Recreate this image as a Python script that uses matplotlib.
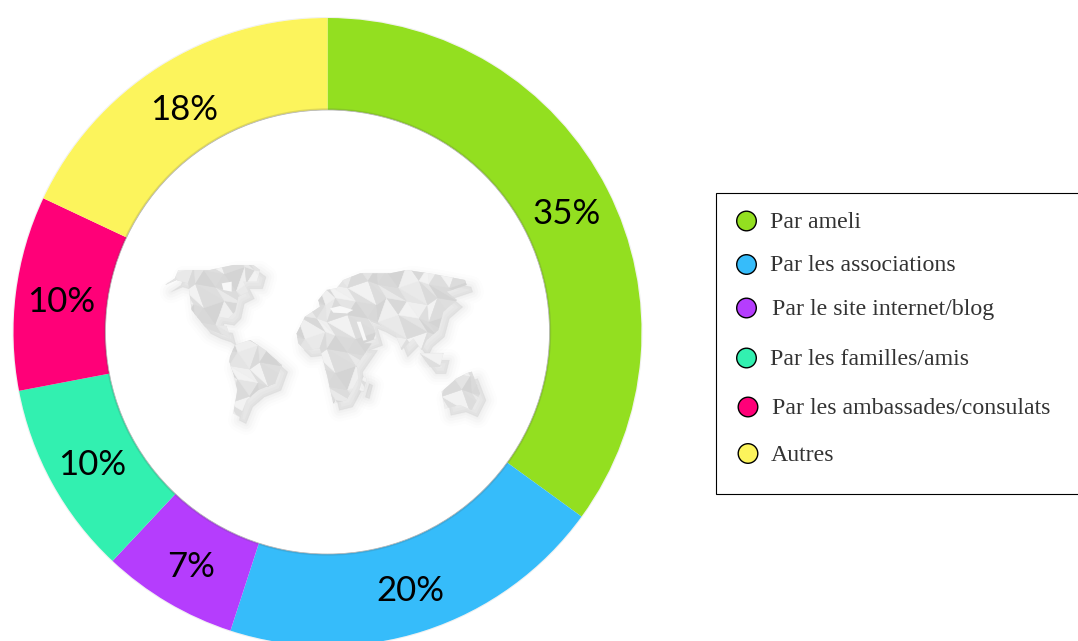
import numpy as np
import matplotlib
matplotlib.use("Agg")
import matplotlib.pyplot as plt
from matplotlib.patches import Polygon, Circle, Rectangle

categories = ["Par ameli", "Par les associations", "Par le site internet/blog",
              "Par les familles/amis", "Par les ambassades/consulats", "Autres"]
values = [35, 20, 7, 10, 10, 18]
colors = ["#93DF20", "#36BCFA", "#B53DFD", "#32F0B0", "#FF0078", "#FCF45C"]

W, H = 1078, 641
CX, CY, R_OUT, R_IN = 327.5, 332, 314, 222
LABEL_R = 268

fig = plt.figure(figsize=(W / 100, H / 100), dpi=100)
ax = fig.add_axes([0, 0, 1, 1])

def Y(p):
    return H - p

ax.pie(values, colors=colors, startangle=90, counterclock=False,
       center=(CX, Y(CY)), radius=R_OUT, frame=True,
       wedgeprops=dict(width=R_OUT - R_IN, linewidth=0, zorder=2))
ax.set_xlim(0, W)
ax.set_ylim(0, H)
ax.set_aspect("equal")
ax.axis("off")

# faint shadow round the ring
ax.add_patch(Circle((CX, Y(CY)), R_OUT + 0.6, fc="none", ec="#aaaaaa", lw=0.6, alpha=0.2, zorder=1))
ax.add_patch(Circle((CX, Y(CY)), R_IN + 1, fc="none", ec="#555555", lw=1.0, alpha=0.18, zorder=3))
ax.add_patch(Circle((CX, Y(CY)), R_IN, fc="white", ec="#aaaaaa", lw=0.5, zorder=3))

# percentage labels
cum = np.cumsum([0] + values)
mids = (cum[:-1] + cum[1:]) / 2 / sum(values) * 2 * np.pi
for v, m in zip(values, mids):
    ax.text(CX + LABEL_R * np.sin(m), Y(CY - LABEL_R * np.cos(m)) - 4, f"{v}%",
            family="Lato", fontsize=25, color="black", ha="center", va="center", zorder=6)

# decorative low-poly world map, outlines in zoomed picture units
def mp(pts):
    return [(150 + x / 3, Y(250 + y / 3)) for x, y in pts]

north_am = [(45,105),(75,85),(85,60),(180,60),(250,45),(310,45),(330,60),(320,95),(280,95),(295,125),
            (265,140),(255,185),(235,205),(205,200),(195,225),(230,228),(240,265),(225,255),(195,245),
            (165,230),(125,180),(115,100),(80,90)]
south_am = [(238,335),(240,320),(255,285),(300,270),(345,300),(395,345),(375,400),(325,420),(290,450),
            (270,500),(250,490),(262,420),(250,370)]
eurafrica = [(440,250),(465,200),(510,170),(505,150),(530,120),(560,115),(580,90),(630,70),(720,70),
             (770,60),(850,72),(945,90),(950,105),(890,125),(920,150),(880,185),(865,240),(830,270),
             (815,300),(790,265),(755,300),(735,250),(690,225),(665,215),(680,265),(640,280),(665,280),
             (620,345),(625,385),(590,450),(550,460),(530,370),(510,295),(465,300),(445,280)]
madagascar = [(640,380),(650,385),(640,425),(628,420)]
seasia = [(810,310),(880,310),(870,350),(840,350)]
australia = [(875,425),(920,385),(950,370),(965,365),(990,430),(965,480),(930,465),(885,475)]
land = [north_am, south_am, eurafrica, madagascar, seasia, australia]
holes = [[(215,100),(245,95),(245,125),(220,120)], [(540,175),(570,168),(610,180),(590,190),(550,188)],
         [(620,215),(632,215),(650,270),(640,272)]]
greys = ["#dadada", "#e9e9e9", "#dedede", "#efefef", "#d4d4d4", "#e4e4e4", "#dcdcdc", "#f2f2f2", "#d8d8d8"]

# soft offset shadow
for pts in land:
    arr = np.array(mp(pts))
    for lw, a in [(16, 0.012), (12, 0.016), (8, 0.022), (4, 0.03), (1, 0.04)]:
        ax.add_patch(Polygon(arr + [6, -7], closed=True, fc="#777777", ec="#777777", lw=lw, alpha=a,
                             joinstyle="round", zorder=4))

# triangular facet mesh clipped to each land outline
STEP = 17.0
for pts in land:
    arr = np.array(mp(pts))
    base = Polygon(arr, closed=True, fc="#e0e0e0", ec="none", zorder=4.5)
    ax.add_patch(base)
    x0, y0 = arr.min(axis=0) - STEP
    x1, y1 = arr.max(axis=0) + STEP
    nx = int((x1 - x0) / STEP) + 2
    ny = int((y1 - y0) / STEP) + 2
    def node(i, j):
        return (x0 + (i + 0.5 * (j % 2)) * STEP + 3.5 * ((i * 7 + j * 3) % 3 - 1),
                y0 + j * STEP + 3.5 * ((i * 5 + j * 2) % 3 - 1))
    for i in range(nx):
        for j in range(ny):
            a, b, c, d = node(i, j), node(i + 1, j), node(i, j + 1), node(i + 1, j + 1)
            for q, tri_pts in enumerate([(a, b, c), (b, d, c)]):
                g = greys[(i * 4 + j * 7 + q * 5) % len(greys)]
                t = Polygon(tri_pts, closed=True, fc=g, ec=g, lw=0.4, zorder=4.6)
                ax.add_patch(t)
                t.set_clip_path(base)
for pts in holes:
    ax.add_patch(Polygon(mp(pts), closed=True, fc="#f8f8f8", ec="none", zorder=4.8))

# legend box
ax.add_patch(Rectangle((716.0, Y(494.0)), W + 5 - 716.0, 301, fc="white", ec="black", lw=0.8, zorder=5))
dot_x = [746.5, 746.5, 746.5, 746.5, 748, 748]
dot_y = [221, 264.5, 308, 358, 407, 453.5]
text_x = [770, 770, 772, 770, 772, 771]
text_y = [222.5, 265.5, 309.5, 359.5, 408.5, 455.5]
for name, col, dx, dy, tx, ty in zip(categories, colors, dot_x, dot_y, text_x, text_y):
    ax.add_patch(Circle((dx, Y(dy)), 9.8, fc=col, ec="black", lw=1.0, zorder=6))
    ax.text(tx, Y(ty), name, family="Liberation Serif", fontsize=17.2, color="#333333",
            ha="left", va="center", zorder=6)

fig.savefig("out.png", dpi=100)
